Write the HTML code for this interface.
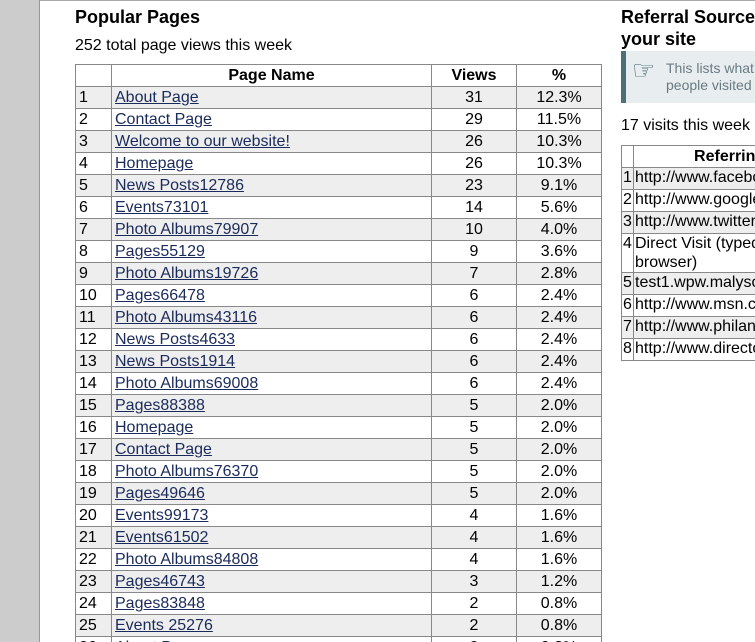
<!DOCTYPE html>
<html><head><meta charset="utf-8"><style>
html,body{margin:0;width:755px;height:642px;overflow:hidden}
body{background:#fff;font-family:"Liberation Sans",sans-serif;color:#000}
#wrap{position:relative;width:755px;height:642px;overflow:hidden}
#sidebar{position:absolute;left:0;top:0;width:39px;height:642px;background:#ccc;border-right:1px solid #999}
#topline{position:absolute;left:40px;top:0;width:715px;height:1px;background:#aaa}
h2{position:absolute;margin:0;font-size:18px;font-weight:bold;line-height:22px}
.sub{position:absolute;font-size:16px;line-height:18px}
table{position:absolute;border-collapse:collapse;border:1px solid #333;font-size:16px;table-layout:fixed}
td,th{border:1px solid #888;height:21px;padding:0 3px;line-height:19px;white-space:nowrap;overflow:hidden}
th{font-weight:bold;text-align:center}
tr.g td{background:#eee}
a{color:#1a2a5a;text-decoration:underline}
.c{text-align:center}
#ref td{padding:0 1px;vertical-align:top}
#note{position:absolute;left:621px;top:51px;width:134px;height:52px;background:#e8edef;border-left:5px solid #4d6f7a;box-sizing:border-box;overflow:hidden}
#note .ic{position:absolute;left:6px;top:6px;font-size:26px;color:#3d5f6a;line-height:26px}
#note .tx{position:absolute;left:40px;top:9px;font-size:14px;line-height:17px;color:#6a7a82;white-space:nowrap}
</style></head><body><div id="wrap">
<div id="sidebar"></div>
<div id="topline"></div>
<h2 style="left:75px;top:6px">Popular Pages</h2>
<div class="sub" style="left:75px;top:37px">252 total page views this week</div>
<table id="pages" style="left:75px;top:64px;width:527px">
<colgroup><col style="width:36px"><col style="width:320px"><col style="width:85px"><col style="width:85px"></colgroup>
<thead><tr><th></th><th>Page Name</th><th>Views</th><th>%</th></tr></thead>
<tbody id="pbody"></tbody></table>

<h2 style="left:621px;top:6px;white-space:nowrap">Referral Sources for<br>your site</h2>
<div id="note"><span class="ic">☞</span><div class="tx">This lists what sites<br>people visited from</div></div>
<div class="sub" style="left:621px;top:117px;white-space:nowrap">17 visits this week</div>
<table id="ref" style="left:621px;top:145px;width:238px">
<colgroup><col style="width:12px"><col style="width:226px"></colgroup>
<thead><tr><th></th><th>Referring Site</th></tr></thead>
<tbody id="rbody"></tbody></table>
</div>
<script>
const pages=[["About Page",31,"12.3%"],["Contact Page",29,"11.5%"],["Welcome to our website!",26,"10.3%"],["Homepage",26,"10.3%"],["News Posts12786",23,"9.1%"],["Events73101",14,"5.6%"],["Photo Albums79907",10,"4.0%"],["Pages55129",9,"3.6%"],["Photo Albums19726",7,"2.8%"],["Pages66478",6,"2.4%"],["Photo Albums43116",6,"2.4%"],["News Posts4633",6,"2.4%"],["News Posts1914",6,"2.4%"],["Photo Albums69008",6,"2.4%"],["Pages88388",5,"2.0%"],["Homepage",5,"2.0%"],["Contact Page",5,"2.0%"],["Photo Albums76370",5,"2.0%"],["Pages49646",5,"2.0%"],["Events99173",4,"1.6%"],["Events61502",4,"1.6%"],["Photo Albums84808",4,"1.6%"],["Pages46743",3,"1.2%"],["Pages83848",2,"0.8%"],["Events 25276",2,"0.8%"],["About Page",2,"0.8%"]];
const refs=["http://www.facebook.com/","http://www.google.com/","http://www.twitter.com/","Direct Visit (typed in<br>browser)","test1.wpw.malysoft.com","http://www.msn.com/","http://www.philanthropy.com/","http://www.directory.com/"];
const pb=document.getElementById('pbody');
pages.forEach((p,i)=>{
 const tr=document.createElement('tr');
 
 
 if(i%2===0)tr.className='g';
 tr.innerHTML='<td>'+(i+1)+'</td><td><a href="#">'+p[0]+'</a></td><td class="c">'+p[1]+'</td><td class="c">'+p[2]+'</td>';
 const a=tr.querySelector('a');
 
 
 pb.appendChild(tr);
});
const rb=document.getElementById('rbody');
refs.forEach((r,i)=>{
 const tr=document.createElement('tr');
 
 
 if(i%2===0)tr.className='g';
 tr.innerHTML='<td>'+(i+1)+'</td><td>'+r+'</td>';
 rb.appendChild(tr);
});
</script>
</body></html>
